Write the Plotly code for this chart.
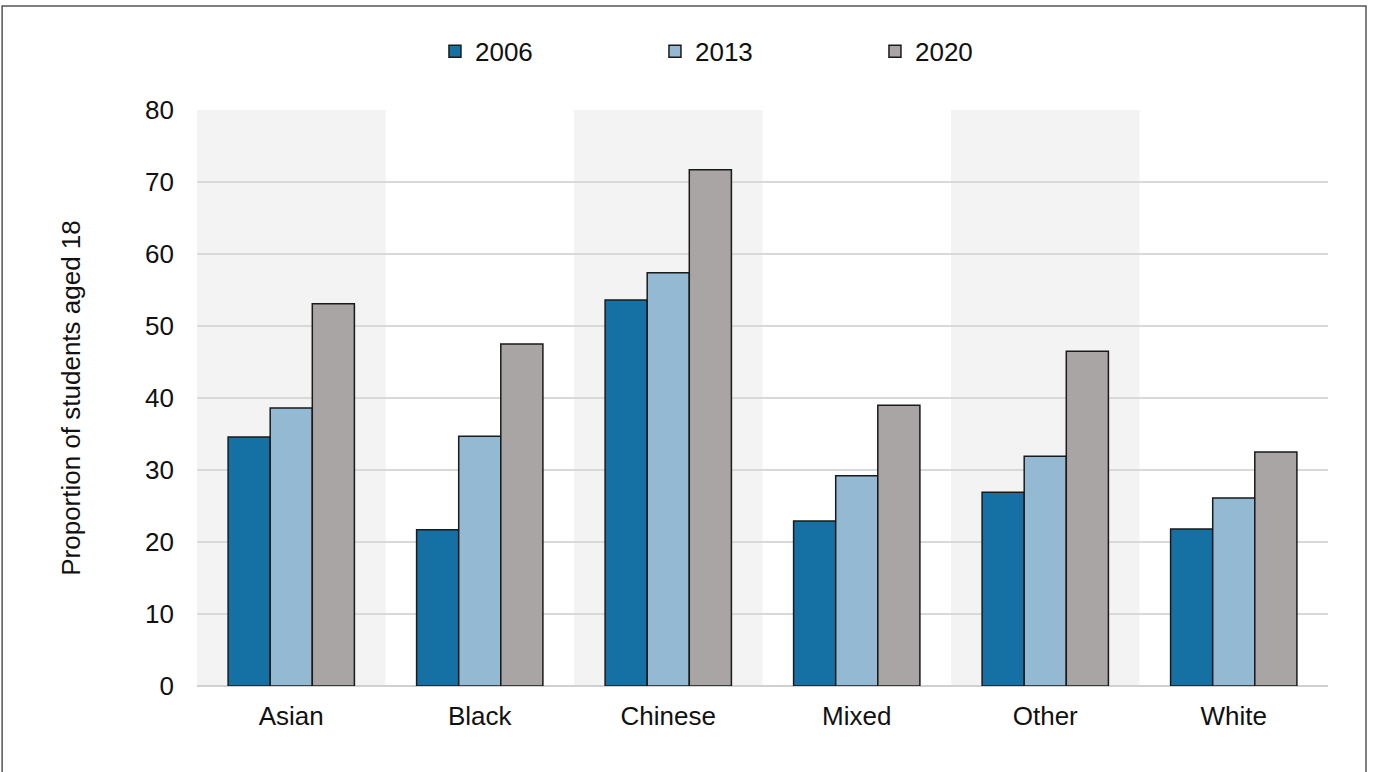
import plotly.graph_objects as go

categories = ["Asian", "Black", "Chinese", "Mixed", "Other", "White"]
years = ["2006", "2013", "2020"]
values_2006 = [34.6, 21.7, 53.6, 22.9, 26.9, 21.8]
values_2013 = [38.6, 34.7, 57.4, 29.2, 31.9, 26.1]
values_2020 = [53.1, 47.5, 71.7, 39.0, 46.5, 32.5]
y_ticks = [0, 10, 20, 30, 40, 50, 60, 70, 80]

series = [values_2006, values_2013, values_2020]
colors = ["#1571a3", "#93b9d3", "#a8a5a4"]

fig = go.Figure()
for year, vals, col in zip(years, series, colors):
    fig.add_trace(go.Bar(
        x=categories, y=vals, name=year,
        marker=dict(color=col, line=dict(color="#1a1a1a", width=1.5)),
    ))

# alternating shaded bands behind every other category
shapes = []
for i in range(0, len(categories), 2):
    shapes.append(dict(type="rect", xref="x", yref="paper",
                       x0=i - 0.5, x1=i + 0.5, y0=0, y1=1,
                       fillcolor="#f3f3f3", line=dict(width=0), layer="below"))
# outer frame
shapes.append(dict(type="rect", xref="paper", yref="paper",
                   x0=-0.1723, x1=1.0336, y0=-0.2, y1=1.1806,
                   line=dict(color="#555555", width=1.5), fillcolor="rgba(0,0,0,0)",
                   layer="above"))

font_family = "Liberation Sans, Arial, sans-serif"
fig.update_layout(
    width=1375, height=772,
    margin=dict(l=197, r=47, t=110, b=86),
    paper_bgcolor="white", plot_bgcolor="white",
    barmode="group", bargap=0.33, bargroupgap=0,
    font=dict(family=font_family, size=26, color="#111111"),
    shapes=shapes,
    showlegend=True,
    legend=dict(orientation="h", x=0.2104, xanchor="left", y=1.102, yanchor="middle",
                font=dict(size=26), entrywidth=175, itemwidth=30,
                bgcolor="rgba(0,0,0,0)"),
    xaxis=dict(showgrid=False, showline=False, ticks="",
               tickfont=dict(size=26), ticklabelstandoff=12),
    yaxis=dict(range=[0, 80], tickvals=y_ticks, showgrid=True, gridcolor="#d9d9d9",
               gridwidth=1.5, zeroline=True, zerolinecolor="#d0d0d0", zerolinewidth=1.5,
               showline=False, ticks="", tickfont=dict(size=26), ticklabelstandoff=22,
               title=dict(text="Proportion of students aged 18", font=dict(size=26),
                          standoff=56)),
)

fig.write_html("out.html")
